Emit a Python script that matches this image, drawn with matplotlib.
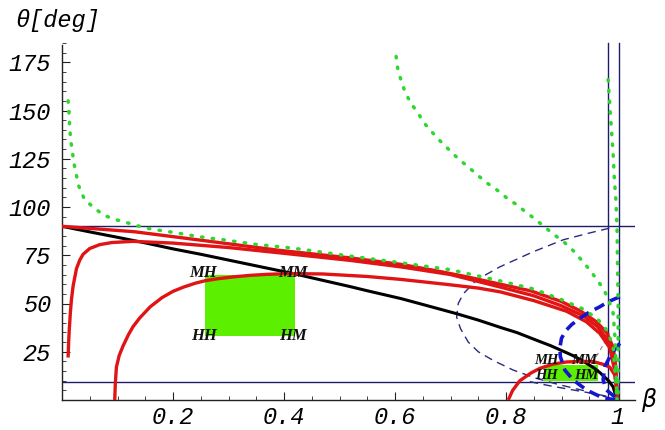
import numpy as np
import matplotlib
matplotlib.use("Agg")
import matplotlib.pyplot as plt
from matplotlib.patches import Rectangle
from matplotlib.ticker import FixedLocator, FixedFormatter, MultipleLocator

# ---- data (beta, theta in deg) ----
black_beta = [0, 0.05, 0.1, 0.15, 0.2, 0.25, 0.3, 0.35, 0.42, 0.45, 0.52, 0.55, 0.61, 0.65, 0.71, 0.75, 0.79,
              0.82, 0.86, 0.88, 0.92, 0.94, 0.96, 0.97, 0.985, 0.993, 1.0]
black_theta = [90, 87.1, 84.3, 81.4, 78.3, 75.5, 72.5, 69.5, 65.3, 63.3, 58.7, 56.6, 52.6, 49.5, 44.8, 41.4, 37.6,
               34.9, 30.4, 28.2, 23.1, 20, 16.3, 14, 9.9, 6.8, 0]

redA_beta = [0, 0.13, 0.25, 0.39, 0.52, 0.61, 0.67, 0.73, 0.79, 0.845, 0.9, 0.935, 0.963, 0.981, 0.993, 0.998, 1.0]
redA_theta = [90, 87.2, 82.8, 77.6, 73.6, 70.3, 67.2, 63.8, 60, 56.5, 51, 46, 40.5, 35, 27.5, 17, 0]

redB_beta = [0.011, 0.012, 0.013, 0.015, 0.017, 0.02, 0.026, 0.032, 0.038, 0.05, 0.068, 0.09, 0.128, 0.2, 0.3,
             0.4, 0.52, 0.61, 0.7, 0.79, 0.85, 0.9, 0.94, 0.965, 0.982, 0.994, 0.999, 1.0]
redB_theta = [22, 30, 36, 45, 52, 59, 68, 72.5, 75.5, 78.5, 80.5, 81.6, 82.2, 81.3, 79,
              76, 72.3, 69, 65, 58.5, 54, 48.8, 43.5, 38, 31.5, 23, 12, 0]

redC_beta = [0.095, 0.096, 0.098, 0.103, 0.11, 0.12, 0.128, 0.14, 0.159, 0.18, 0.2, 0.219, 0.24, 0.258, 0.28,
             0.309, 0.34, 0.369, 0.41, 0.47, 0.55, 0.61, 0.69, 0.75, 0.79, 0.85, 0.909, 0.945, 0.969, 0.987,
             0.996, 1.0]
redC_theta = [0, 8, 17, 23, 28, 34, 38, 42.5, 48.3, 53, 56.3, 58.5, 60.5, 61.8, 62.8,
              63.8, 64.6, 65.1, 65.5, 65.3, 64, 62.5, 60, 58, 56, 51.5, 46, 40.5, 34.5, 27,
              15, 0]

redD_beta = [0.804, 0.812, 0.825, 0.845, 0.861, 0.885, 0.909, 0.935, 0.957, 0.975, 0.987, 0.996, 1.0, 1.0]
redD_theta = [0, 5, 10, 14, 16.4, 18.6, 19.7, 20, 19.9, 18.5, 17, 13, 6, 0]

green1_beta = [0.011, 0.013, 0.014, 0.016, 0.022, 0.03, 0.041, 0.074, 0.095, 0.117, 0.137, 0.16, 0.204, 0.247,
               0.294, 0.35, 0.4, 0.447, 0.5, 0.6, 0.7, 0.8, 0.85, 0.9, 0.94, 0.965, 0.982, 0.993, 1.0]
green1_theta = [155, 147, 140.4, 134, 122, 111, 103.6, 95.9, 93.6, 91.9, 90.2, 88.6, 86.7, 84.6,
                82.9, 80.6, 79.2, 77.5, 75.3, 71.5, 67.5, 61, 57.5, 52, 47, 42, 36, 28, 0]

green2_beta = [0.602, 0.605, 0.611, 0.618, 0.628, 0.641, 0.653, 0.667, 0.682, 0.698, 0.714, 0.731, 0.748, 0.765,
               0.783, 0.8, 0.818, 0.835, 0.853, 0.869, 0.886, 0.904, 0.921, 0.936, 0.95, 0.963, 0.976, 0.985,
               0.993, 0.997, 1.0]
green2_theta = [178, 171.5, 165.5, 159.7, 154, 148.9, 143.3, 138.7, 134, 129.5, 125, 121, 116.7, 112.6,
                109, 105, 101.4, 97.6, 93.6, 89.8, 85.8, 82, 77.4, 72.5, 67.7, 62.7, 57.4, 51.8,
                45, 30, 0]

green3_beta = [0.984, 0.987, 0.99, 0.993, 0.995, 0.998, 1.0, 1.002, 1.002]
green3_theta = [166, 152.8, 140, 127.8, 115.7, 103.6, 89.8, 50, 0]

blue1_beta = [1.005, 0.985, 0.969, 0.95, 0.933, 0.918, 0.908, 0.9, 0.897, 0.898, 0.906, 0.921, 0.945, 0.975, 1.0]
blue1_theta = [53.5, 51, 48.3, 45.5, 42.3, 39, 36, 32, 27, 22.4, 15.5, 10.4, 5.2, 1, 0]

blue2_beta = [1.005, 0.99, 0.978, 0.975, 0.981, 0.999]
blue2_theta = [29.4, 24, 17.3, 10.4, 5.2, 0.9]

ellipse_beta = [0.986, 0.95, 0.903, 0.849, 0.789, 0.747, 0.723, 0.714, 0.711, 0.718, 0.732, 0.75, 0.777,
                0.813, 0.855, 0.891, 0.945, 0.981, 1.0]
ellipse_theta = [89, 86.5, 83, 76.8, 69, 62.2, 55, 50, 43, 37, 30, 25, 20.5,
                 15.5, 11.2, 8.3, 4.5, 1.5, 0]

thin2_beta = [0.843, 0.88, 0.921, 0.96, 0.99]
thin2_theta = [9.5, 7.3, 5.2, 3.2, 1.5]

gray_beta = [0.955, 0.972, 0.987]
gray_theta = [19, 27, 34.5]

hlines_theta = [90, 9.3]
vlines_beta = [0.984, 1.004]

box_big = (0.258, 0.42, 33, 65)      # beta0, beta1, theta0, theta1
box_small = (0.868, 0.966, 9.6, 18)

corner_labels = ["MH", "MM", "HH", "HM"]

x_ticks = [0.2, 0.4, 0.6, 0.8, 1.0]
x_ticklabels = ["0.2", "0.4", "0.6", "0.8", "1"]
y_ticks = [25, 50, 75, 100, 125, 150, 175]

# ---- figure ----
fig = plt.figure(figsize=(6.65, 4.30), dpi=100)
W, H = 665, 430
x0_px, x1_px = 62, 635
y0_px, y1_px = 400, 42
ax = fig.add_axes([x0_px / W, (H - y0_px) / H, (x1_px - x0_px) / W, (y0_px - y1_px) / H])
ax.set_xlim(0, (x1_px - x0_px) / 555.0)
ax.set_ylim(0, (y0_px - y1_px) / 1.93)

for s in ["top", "right"]:
    ax.spines[s].set_visible(False)
ax.spines["left"].set_bounds(0, 184)
for s in ["left", "bottom"]:
    ax.spines[s].set_color("#222222")
    ax.spines[s].set_linewidth(1.0)

tick_family = ["Liberation Mono", "DejaVu Sans Mono"]
ax.xaxis.set_major_locator(FixedLocator(x_ticks))
ax.xaxis.set_major_formatter(FixedFormatter(x_ticklabels))
ax.xaxis.set_minor_locator(MultipleLocator(0.05))
ax.yaxis.set_major_locator(FixedLocator(y_ticks))
ax.yaxis.set_minor_locator(MultipleLocator(5))
ax.tick_params(which="major", direction="in", length=6, width=0.8, color="#222222")
ax.tick_params(which="minor", direction="in", length=3, width=0.6, color="#222222")
ax.tick_params(axis="x", pad=4)
ax.tick_params(axis="y", pad=8)
for lab in ax.get_xticklabels() + ax.get_yticklabels():
    lab.set_fontfamily(tick_family)
    lab.set_fontstyle("italic")
    lab.set_fontsize(17)

# reference lines
navy = "#1c1c6a"
for th in hlines_theta:
    ax.axhline(th, color=navy, lw=1.0, zorder=2)
for b in vlines_beta:
    ax.plot([b, b], [0, 185], color=navy, lw=1.0, zorder=2)

# green boxes
for (b0, b1, t0, t1) in [box_big, box_small]:
    ax.add_patch(Rectangle((b0, t0), b1 - b0, t1 - t0, facecolor="#5cf000", edgecolor="none", zorder=1))

# dashed blue curves
ax.plot(ellipse_beta, ellipse_theta, color="#2a2a80", lw=1.0, ls=(0, (6, 4)), zorder=3)
ax.plot(thin2_beta, thin2_theta, color="#2a2a80", lw=1.0, ls=(0, (6, 4)), zorder=3)
ax.plot(gray_beta, gray_theta, color="#888888", lw=0.8, ls=(0, (4, 3)), zorder=3)
ax.plot(blue1_beta, blue1_theta, color="#1515d0", lw=2.6, ls=(0, (3, 1.8)), zorder=5)
ax.plot(blue2_beta, blue2_theta, color="#1515d0", lw=2.6, ls=(0, (3, 1.8)), zorder=5)

# solid curves
ax.plot(black_beta, black_theta, color="black", lw=2.2, zorder=4)
red = "#e01414"
for bb, tt in [(redA_beta, redA_theta), (redB_beta, redB_theta), (redC_beta, redC_theta), (redD_beta, redD_theta)]:
    ax.plot(bb, tt, color=red, lw=2.4, zorder=4, solid_capstyle="butt", solid_joinstyle="round")

# green dotted curves
for bb, tt in [(green1_beta, green1_theta), (green2_beta, green2_theta), (green3_beta, green3_theta)]:
    ax.plot(bb, tt, color="#2fd62f", lw=2.5, ls=(0, (0.4, 2.7)), dash_capstyle="round", zorder=6)

# corner labels
big_font = dict(family="Liberation Serif", style="italic", weight="bold", size=12, color="#111111", zorder=7)
small_font = dict(big_font, size=10.5)
b0, b1, t0, t1 = box_big
ax.text(b0 - 0.003, t1 + 0.8, corner_labels[0], ha="center", va="center", **big_font)
ax.text(b1 - 0.003, t1 + 0.8, corner_labels[1], ha="center", va="center", **big_font)
ax.text(b0 - 0.003, t0 + 0.3, corner_labels[2], ha="center", va="center", **big_font)
ax.text(b1 - 0.003, t0 + 0.3, corner_labels[3], ha="center", va="center", **big_font)
ax.text(0.873, 20.5, corner_labels[0], ha="center", va="center", **small_font)
ax.text(0.94, 20.5, corner_labels[1], ha="center", va="center", **small_font)
ax.text(0.873, 12.5, corner_labels[2], ha="center", va="center", **small_font)
ax.text(0.945, 12.5, corner_labels[3], ha="center", va="center", **small_font)

# axis labels
fig.text(15 / W, 1 - 21 / H, "θ[deg]", ha="left", va="center",
         family=tick_family, style="italic", size=17)
fig.text(641 / W, 1 - 400 / H, "β", ha="left", va="center",
         family=["DejaVu Sans"], style="italic", size=17)

fig.savefig("out.png", dpi=100)
